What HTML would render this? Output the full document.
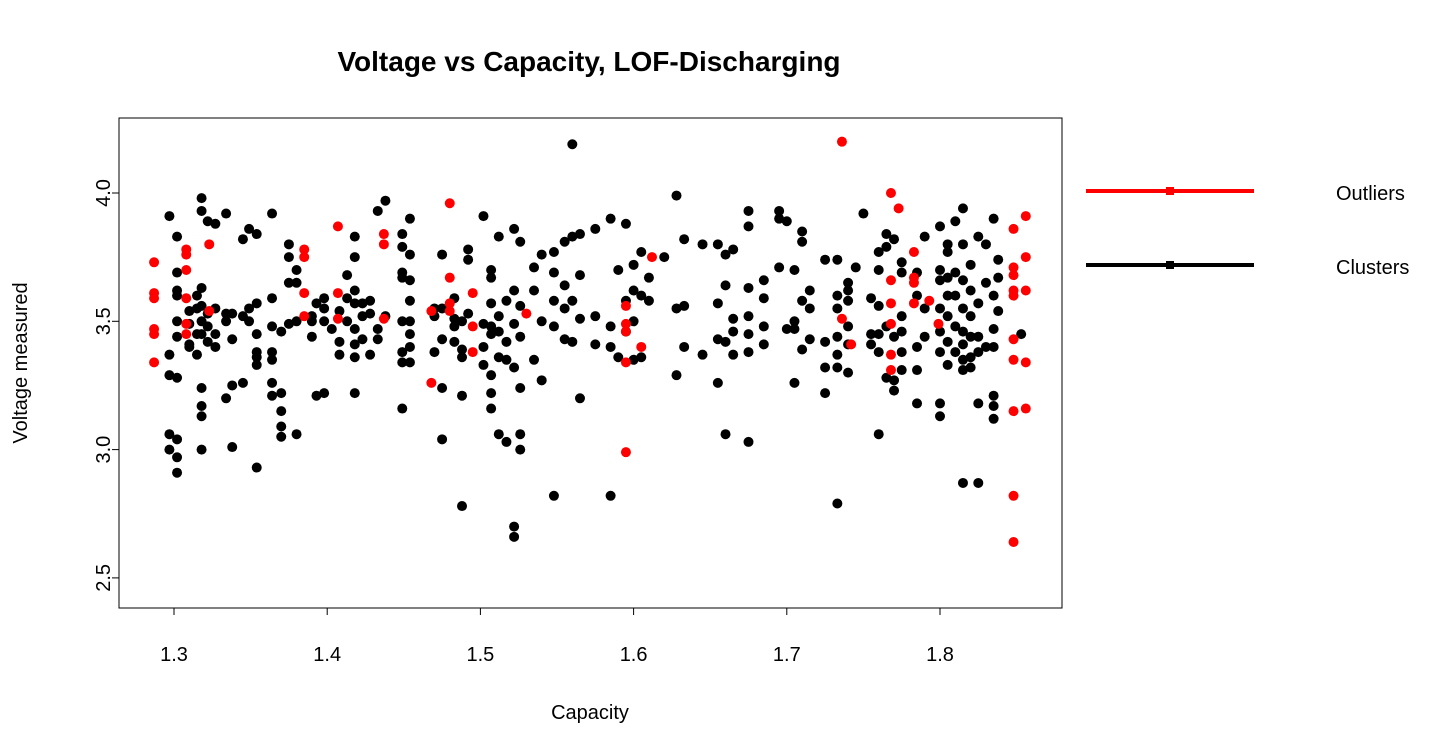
<!DOCTYPE html>
<html><head><meta charset="utf-8"><style>
html,body{margin:0;padding:0;background:#fff;}
svg{display:block;font-family:"Liberation Sans",Arial,sans-serif;}
</style></head><body>
<svg id="chart" width="1440" height="756" viewBox="0 0 1440 756">
<text x="589" y="71" text-anchor="middle" font-size="28" font-weight="bold">Voltage vs Capacity, LOF-Discharging</text>
<rect x="119" y="118" width="943" height="490" fill="none" stroke="#000" stroke-width="1"/>
<g id="xaxis"></g>
<g id="yaxis"></g>
<text x="590" y="719" text-anchor="middle" font-size="20">Capacity</text>
<text transform="translate(27,363) rotate(-90)" text-anchor="middle" font-size="20">Voltage measured</text>
<g id="black-points"></g>
<g id="red-points"></g>
<g>
 <g>
  <line x1="1086" y1="191" x2="1254" y2="191" stroke="#f00" stroke-width="4"/>
  <rect x="1166" y="187" width="8" height="8" fill="#f00"/>
  <text x="1336" y="200" font-size="20">Outliers</text>
 </g>
 <g>
  <line x1="1086" y1="265" x2="1254" y2="265" stroke="#000" stroke-width="4"/>
  <rect x="1166" y="261" width="8" height="8" fill="#000"/>
  <text x="1336" y="274" font-size="20">Clusters</text>
 </g>
</g>
</svg>
<script>
const xTicks=[1.3,1.4,1.5,1.6,1.7,1.8];
const yTicks=[2.5,3.0,3.5,4.0];
const xTickLabels=["1.3","1.4","1.5","1.6","1.7","1.8"];
const yTickLabels=["2.5","3.0","3.5","4.0"];
const redGroups=[
[1.287,[3.73,3.61,3.59,3.47,3.45,3.34]],
[1.308,[3.78,3.76,3.70,3.59,3.49,3.45]],
[1.323,[3.80,3.54]],
[1.385,[3.78,3.75,3.61,3.52]],
[1.407,[3.87,3.61,3.51]],
[1.437,[3.84,3.80,3.51]],
[1.468,[3.54,3.26]],
[1.480,[3.96,3.67,3.57,3.54]],
[1.495,[3.61,3.48,3.38]],
[1.530,[3.53]],
[1.595,[3.56,3.49,3.46,3.34,2.99]],
[1.605,[3.40]],
[1.612,[3.75]],
[1.736,[4.20,3.51]],
[1.742,[3.41]],
[1.768,[4.00,3.66,3.57,3.49,3.37,3.31]],
[1.773,[3.94]],
[1.783,[3.77,3.67,3.65,3.57]],
[1.793,[3.58]],
[1.799,[3.49]],
[1.848,[3.86,3.71,3.68,3.62,3.60,3.43,3.35,3.15,2.82,2.64]],
[1.856,[3.91,3.75,3.62,3.34,3.16]]
];
const blackGroups=[
[1.297,[3.91,3.37,3.29,3.06,3.00]],
[1.302,[3.83,3.69,3.62,3.60,3.50,3.44,3.28,3.04,2.97,2.91]],
[1.310,[3.54,3.49,3.41,3.40]],
[1.315,[3.60,3.55,3.45,3.37]],
[1.318,[3.98,3.93,3.63,3.56,3.50,3.45,3.24,3.17,3.13,3.00]],
[1.322,[3.89,3.53,3.48,3.42]],
[1.327,[3.88,3.55,3.45,3.40]],
[1.334,[3.92,3.53,3.50,3.20]],
[1.338,[3.53,3.43,3.25,3.01]],
[1.345,[3.82,3.52,3.26]],
[1.349,[3.86,3.55,3.50]],
[1.354,[3.84,3.57,3.45,3.38,3.36,3.33,2.93]],
[1.364,[3.92,3.59,3.48,3.38,3.35,3.26,3.21]],
[1.370,[3.46,3.22,3.15,3.09,3.05]],
[1.375,[3.80,3.75,3.65,3.49]],
[1.380,[3.70,3.65,3.50,3.06]],
[1.390,[3.52,3.50,3.44]],
[1.393,[3.57,3.21]],
[1.398,[3.59,3.55,3.50,3.22]],
[1.403,[3.47]],
[1.408,[3.54,3.42,3.37]],
[1.413,[3.68,3.59,3.50]],
[1.418,[3.83,3.75,3.62,3.57,3.47,3.41,3.36,3.22]],
[1.423,[3.57,3.52,3.43]],
[1.428,[3.58,3.53,3.37]],
[1.433,[3.93,3.47,3.43]],
[1.438,[3.97,3.52]],
[1.449,[3.84,3.79,3.69,3.67,3.50,3.38,3.34,3.16]],
[1.454,[3.90,3.76,3.66,3.58,3.50,3.45,3.40,3.34]],
[1.470,[3.55,3.52,3.38]],
[1.475,[3.76,3.55,3.43,3.24,3.04]],
[1.483,[3.59,3.51,3.48,3.42]],
[1.488,[3.50,3.39,3.36,3.21,2.78]],
[1.492,[3.78,3.74,3.53]],
[1.502,[3.91,3.49,3.40,3.33]],
[1.507,[3.70,3.67,3.57,3.48,3.45,3.29,3.22,3.16]],
[1.512,[3.83,3.52,3.46,3.36,3.06]],
[1.517,[3.58,3.42,3.35,3.03]],
[1.522,[3.86,3.62,3.49,3.32,2.70,2.66]],
[1.526,[3.81,3.56,3.44,3.24,3.06,3.00]],
[1.535,[3.71,3.62,3.35]],
[1.540,[3.76,3.50,3.27]],
[1.548,[3.77,3.69,3.58,3.48,2.82]],
[1.555,[3.81,3.64,3.55,3.43]],
[1.560,[4.19,3.83,3.58,3.42]],
[1.565,[3.84,3.68,3.51,3.20]],
[1.575,[3.86,3.52,3.41]],
[1.585,[3.90,3.48,3.40,2.82]],
[1.590,[3.70,3.36]],
[1.595,[3.88,3.58,3.46]],
[1.600,[3.72,3.62,3.50,3.35]],
[1.605,[3.77,3.60,3.36]],
[1.610,[3.67,3.58]],
[1.620,[3.75]],
[1.628,[3.99,3.55,3.29]],
[1.633,[3.82,3.56,3.40]],
[1.645,[3.80,3.37]],
[1.655,[3.80,3.57,3.43,3.26]],
[1.660,[3.76,3.64,3.42,3.06]],
[1.665,[3.78,3.51,3.46,3.37]],
[1.675,[3.93,3.87,3.63,3.52,3.45,3.38,3.03]],
[1.685,[3.66,3.59,3.48,3.41]],
[1.695,[3.93,3.90,3.71]],
[1.700,[3.89,3.47]],
[1.705,[3.70,3.50,3.47,3.26]],
[1.710,[3.85,3.81,3.58,3.39]],
[1.715,[3.62,3.55,3.43]],
[1.725,[3.74,3.42,3.32,3.22]],
[1.733,[3.74,3.60,3.55,3.44,3.37,3.32,2.79]],
[1.740,[3.65,3.62,3.58,3.48,3.41,3.30]],
[1.745,[3.71]],
[1.750,[3.92]],
[1.755,[3.59,3.45,3.41]],
[1.760,[3.77,3.70,3.56,3.45,3.38,3.06]],
[1.765,[3.84,3.79,3.48,3.28]],
[1.770,[3.82,3.44,3.27,3.23]],
[1.775,[3.73,3.69,3.52,3.46,3.38,3.31]],
[1.785,[3.69,3.60,3.40,3.31,3.18]],
[1.790,[3.83,3.55,3.44]],
[1.800,[3.87,3.70,3.66,3.55,3.46,3.38,3.18,3.13]],
[1.805,[3.80,3.77,3.67,3.60,3.52,3.42,3.33]],
[1.810,[3.89,3.69,3.60,3.48,3.38]],
[1.815,[3.94,3.80,3.66,3.55,3.46,3.41,3.35,3.31,2.87]],
[1.820,[3.72,3.62,3.52,3.44,3.36,3.32]],
[1.825,[3.83,3.57,3.44,3.38,3.18,2.87]],
[1.830,[3.80,3.65,3.40]],
[1.835,[3.90,3.60,3.47,3.40,3.21,3.17,3.12]],
[1.838,[3.74,3.67,3.54]],
[1.853,[3.45]]
];
const NS="http://www.w3.org/2000/svg";
function sx(v){return 174+(v-1.3)*1532;}
function sy(v){return 193+(4.0-v)*256.6;}
const xa=document.getElementById('xaxis');
xa.innerHTML+='<line x1="'+sx(1.3)+'" y1="608" x2="'+sx(1.8)+'" y2="608" stroke="#000"/>';
xTicks.forEach((t,i)=>{
 const l=document.createElementNS(NS,'line');
 l.setAttribute('x1',sx(t));l.setAttribute('x2',sx(t));l.setAttribute('y1',608);l.setAttribute('y2',615);l.setAttribute('stroke','#000');
 
 
 xa.appendChild(l);
 const tx=document.createElementNS(NS,'text');
 tx.setAttribute('x',sx(t));tx.setAttribute('y',661);tx.setAttribute('text-anchor','middle');tx.setAttribute('font-size','20');
 tx.textContent=xTickLabels[i];
 
 
 xa.appendChild(tx);
});
const ya=document.getElementById('yaxis');
yTicks.forEach((t,i)=>{
 const l=document.createElementNS(NS,'line');
 l.setAttribute('x1',112);l.setAttribute('x2',119);l.setAttribute('y1',sy(t));l.setAttribute('y2',sy(t));l.setAttribute('stroke','#000');
 
 
 ya.appendChild(l);
 const tx=document.createElementNS(NS,'text');
 tx.setAttribute('transform','translate(110,'+sy(t)+') rotate(-90)');tx.setAttribute('text-anchor','middle');tx.setAttribute('font-size','20');
 tx.textContent=yTickLabels[i];
 
 
 ya.appendChild(tx);
});
ya.innerHTML+='<line x1="119" y1="'+sy(2.5)+'" x2="119" y2="'+sy(4.0)+'" stroke="#000"/>';
function draw(groups,gid,color,name){
 const g=document.getElementById(gid);
 groups.forEach(([c,vs])=>vs.forEach(v=>{
  const p=document.createElementNS(NS,'circle');
  p.setAttribute('cx',sx(c));p.setAttribute('cy',sy(v));p.setAttribute('r',5);p.setAttribute('fill',color);
  
  
  g.appendChild(p);
 }));
}
draw(blackGroups,'black-points','#000','cluster-point');
draw(redGroups,'red-points','#f00','outlier-point');
</script>
</body></html>
